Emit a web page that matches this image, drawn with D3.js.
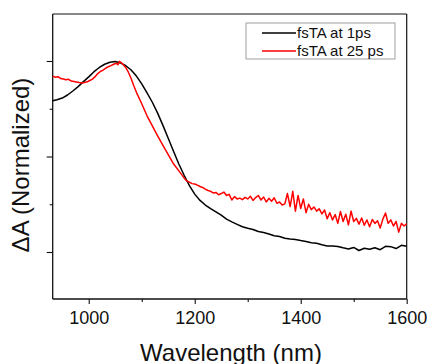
<!DOCTYPE html>
<html>
<head>
<meta charset="utf-8">
<script src="https://cdn.jsdelivr.net/npm/d3@7"></script>
<style>
  body { margin: 0; background: #fff; }
  svg { display: block; font-family: "Liberation Sans", Arial, sans-serif; }
</style>
</head>
<body>
<div id="chart"></div>
<script>
// fsTA at 1 ps (black)
const wl1 = [932, 940, 950, 960, 970, 980, 990, 1000, 1010, 1020, 1030, 1040, 1050, 1060, 1070, 1080, 1090,
  1100, 1110, 1120, 1130, 1140, 1150, 1160, 1170, 1180, 1190, 1200, 1210, 1220, 1230, 1240, 1250, 1260,
  1270, 1280, 1290, 1300, 1310, 1320, 1330, 1340, 1350, 1360, 1370, 1380, 1390, 1400, 1410, 1420, 1430,
  1440, 1450, 1460, 1470, 1480, 1490, 1500, 1510, 1520, 1530, 1540, 1550, 1560, 1570, 1580, 1590, 1600];
const dA1 = [0.792, 0.797, 0.806, 0.822, 0.843, 0.866, 0.892, 0.917, 0.944, 0.966, 0.983, 0.993, 0.997, 0.990,
  0.975, 0.953, 0.921, 0.880, 0.833, 0.784, 0.727, 0.663, 0.596, 0.527, 0.461, 0.402, 0.348, 0.303, 0.270,
  0.246, 0.227, 0.210, 0.193, 0.172, 0.158, 0.145, 0.132, 0.124, 0.118, 0.107, 0.102, 0.094, 0.085, 0.081,
  0.072, 0.068, 0.066, 0.060, 0.055, 0.049, 0.046, 0.038, 0.031, 0.032, 0.029, 0.022, 0.016, 0.024, 0.008,
  0.020, 0.014, 0.022, 0.012, 0.030, 0.028, 0.018, 0.035, 0.030];

// fsTA at 25 ps (red)
const wl25 = [932, 937, 942, 947, 952, 957, 962, 967, 972, 977, 982, 987, 992, 997, 1002, 1007, 1012, 1017,
  1022, 1027, 1032, 1037, 1042, 1047, 1052, 1055, 1058, 1062, 1066, 1070, 1075, 1080, 1085, 1090, 1100,
  1110, 1120, 1130, 1140, 1150, 1160, 1170, 1180, 1185, 1190, 1195,
  1200, 1205, 1210, 1215, 1220, 1225, 1230, 1235, 1240, 1245, 1250, 1255, 1260, 1265, 1270, 1275, 1280,
  1285, 1290, 1295, 1300, 1305, 1310, 1315, 1320, 1325, 1330, 1335, 1340, 1345, 1350, 1355, 1360, 1365,
  1370, 1375, 1380, 1385, 1390, 1395, 1400, 1405, 1410, 1415, 1420, 1425, 1430, 1435, 1440, 1445, 1450,
  1455, 1460, 1465, 1470, 1475, 1480, 1485, 1490, 1495, 1500, 1505, 1510, 1515, 1520, 1525, 1530, 1535,
  1540, 1545, 1550, 1555, 1560, 1565, 1570, 1575, 1580, 1585, 1590, 1595, 1600];
const dA25 = [0.921, 0.915, 0.918, 0.908, 0.906, 0.902, 0.904, 0.895, 0.893, 0.890, 0.887, 0.885, 0.887, 0.891,
  0.898, 0.905, 0.918, 0.934, 0.945, 0.952, 0.962, 0.970, 0.976, 0.983, 0.988, 0.980, 0.998, 0.990, 0.978,
  0.965, 0.940, 0.908, 0.870, 0.836, 0.776, 0.713, 0.660, 0.608, 0.558, 0.510, 0.462, 0.425, 0.388, 0.372,
  0.366, 0.358,
  0.356, 0.350, 0.343, 0.338, 0.329, 0.322, 0.318, 0.309, 0.312, 0.300, 0.306, 0.314, 0.296, 0.302, 0.272,
  0.290, 0.278, 0.282, 0.274, 0.286, 0.278, 0.292, 0.270, 0.285, 0.296, 0.272, 0.288, 0.262, 0.281, 0.266,
  0.284, 0.255, 0.262, 0.246, 0.252, 0.306, 0.238, 0.318, 0.214, 0.296, 0.228, 0.278, 0.206, 0.250, 0.222,
  0.236, 0.214, 0.226, 0.200, 0.220, 0.174, 0.206, 0.168, 0.196, 0.150, 0.212, 0.160, 0.198, 0.142, 0.214,
  0.160, 0.176, 0.146, 0.178, 0.140, 0.168, 0.132, 0.170, 0.150, 0.164, 0.126, 0.172, 0.204, 0.150, 0.168,
  0.136, 0.160, 0.104, 0.150, 0.136, 0.148];

const xMajor = [1000, 1200, 1400, 1600];
const xMinor = [1100, 1300, 1500];
const yMajor = [0, 0.5, 1];
const yMinor = [0.25, 0.75];
const seriesNames = ["fsTA at 1ps", "fsTA at 25 ps"];
const seriesColors = ["#000000", "#ff0000"];

const W = 428, H = 364;
const margin = { top: 14, right: 21.3, bottom: 65, left: 52.7 };
const width = W - margin.left - margin.right;
const height = H - margin.top - margin.bottom;

const svg = d3.select("#chart").append("svg")
  .attr("width", W)
  .attr("height", H);

const g = svg.append("g")
  .attr("transform", `translate(${margin.left},${margin.top})`);

// === Scales ===
const x = d3.scaleLinear().domain([932, 1600]).range([0, width]);
const y = d3.scaleLinear().domain([-0.246, 1.246]).range([height, 0]);

// === Frame (top / right) ===
g.append("line").attr("x1", 0).attr("x2", width).attr("y1", 0).attr("y2", 0)
  .attr("stroke", "#111").attr("stroke-width", 1.2);
g.append("line").attr("x1", width).attr("x2", width).attr("y1", 0).attr("y2", height)
  .attr("stroke", "#111").attr("stroke-width", 1.2);

// === Axes ===
const xAxis = g.append("g")
  .attr("transform", `translate(0,${height})`)
  .call(d3.axisBottom(x).tickValues(xMajor).tickSize(5).tickPadding(7).tickFormat(d3.format("d")));
g.append("g")
  .attr("transform", `translate(0,${height})`)
  .call(d3.axisBottom(x).tickValues(xMinor).tickSize(3).tickFormat(""))
  .call(a => a.select(".domain").remove());

const yAxis = g.append("g")
  .call(d3.axisLeft(y).tickValues(yMajor).tickSize(6).tickFormat(""));
g.append("g")
  .call(d3.axisLeft(y).tickValues(yMinor).tickSize(3).tickFormat(""))
  .call(a => a.select(".domain").remove());

g.selectAll(".domain").attr("stroke", "#111").attr("stroke-width", 1.3)
  .attr("d", function () { return d3.select(this).attr("d"); });
xAxis.select(".domain").attr("d", `M0,0H${width}`);
yAxis.select(".domain").attr("d", `M0,0V${height}`);
g.selectAll(".tick line").attr("stroke", "#111").attr("stroke-width", 1.1);
xAxis.selectAll("text")
  .style("font-size", "18px")
  .attr("fill", "#111")
  .style("font-family", "'Liberation Sans', Arial, sans-serif");

// === Lines ===
const line = d3.line().x(d => x(d[0])).y(d => y(d[1]));
const s1 = wl1.map((w, i) => [w, dA1[i]]);
const s25 = wl25.map((w, i) => [w, dA25[i]]);

g.append("path").datum(s1)
  .attr("fill", "none")
  .attr("stroke", seriesColors[0])
  .attr("stroke-width", 1.5)
  .attr("stroke-linejoin", "round")
  .attr("d", line);

g.append("path").datum(s25)
  .attr("fill", "none")
  .attr("stroke", seriesColors[1])
  .attr("stroke-width", 1.5)
  .attr("stroke-linejoin", "round")
  .attr("d", line);

// === Labels ===
svg.append("text")
  .attr("x", 231)
  .attr("y", 361)
  .attr("text-anchor", "middle")
  .style("font-size", "24px")
  .attr("fill", "#111")
  .text("Wavelength (nm)");

svg.append("text")
  .attr("transform", "translate(29,165) rotate(-90)")
  .attr("text-anchor", "middle")
  .style("font-size", "24px")
  .attr("fill", "#111")
  .text("\u0394A (Normalized)");

// === Legend ===
const legend = svg.append("g").attr("transform", "translate(246,23)");
legend.append("rect")
  .attr("width", 149)
  .attr("height", 36)
  .attr("fill", "#fff")
  .attr("stroke", "#a0a0a0")
  .attr("stroke-width", 1);

const items = legend.selectAll(".item")
  .data(seriesNames)
  .join("g")
  .attr("transform", (d, i) => `translate(0,${10 + i * 18})`);

items.append("line")
  .attr("x1", 16).attr("x2", 50)
  .attr("y1", 0).attr("y2", 0)
  .attr("stroke", (d, i) => seriesColors[i])
  .attr("stroke-width", 1.5);

items.append("text")
  .attr("x", 51)
  .attr("y", 5)
  .style("font-size", "15px")
  .attr("fill", "#111")
  .text(d => d);
</script>
</body>
</html>
